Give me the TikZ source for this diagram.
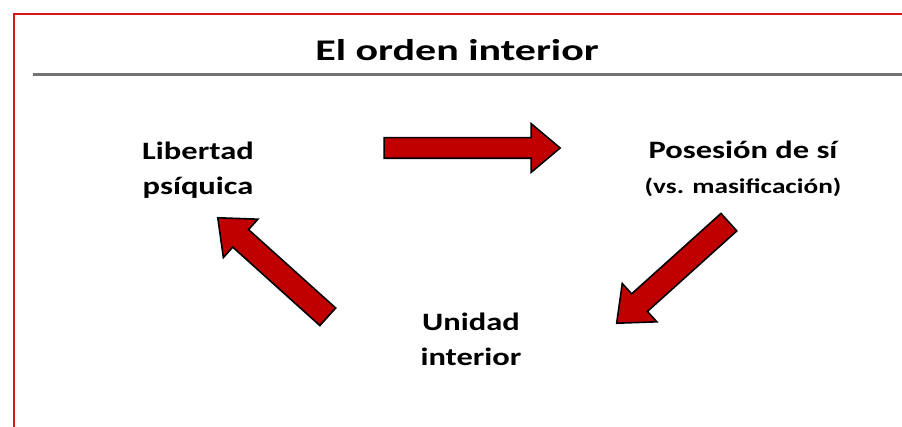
\documentclass[tikz,border=0pt]{standalone}
\usepackage{fontspec}
\setmainfont{Carlito}
\usetikzlibrary{shapes.arrows}
\definecolor{framered}{HTML}{D8141C}
\definecolor{arrowred}{HTML}{C00000}
\begin{document}
\begin{tikzpicture}[
    x=1pt, y=-1pt,
    every node/.style={align=center, font=\bfseries},
    label/.style={xscale=1.3, font=\fontsize{25}{35}\selectfont\bfseries},
    bigarrow/.style={single arrow, draw=black, line width=1.6pt, fill=arrowred,
        inner sep=0pt, inner ysep=#1, single arrow tip angle=80,
        single arrow head extend=14pt},
    >=latex]

\useasboundingbox (0,0) rectangle (902,427);

% frame and rule
\draw[framered, line width=2.2pt] (14,440) -- (14,14) -- (910,14);
\draw[black!55, line width=3pt] (33,75) -- (910,75);

% title
\node[xscale=1.4, font=\fontsize{30}{36}\selectfont\bfseries] (title) at (457,50) {El orden interior};

% the three stages
\node[label] (lib) at (198,170) {Libertad\\ psíquica};
\node[label] (pos) at (743,169) {Posesión de sí\\ {\fontsize{21}{35}\selectfont (vs. masificación)}};
\node[label] (uni) at (471,339) {Unidad\\ interior};

% arrows between them
\node[bigarrow=9.5pt, minimum height=176pt] (a1) at (466,148) {};
\node[bigarrow=11pt, minimum height=151pt, rotate=222] (a2) at (678,268) {};
\node[bigarrow=11pt, minimum height=148pt, rotate=138] (a3) at (278,272) {};
\end{tikzpicture}
\end{document}
